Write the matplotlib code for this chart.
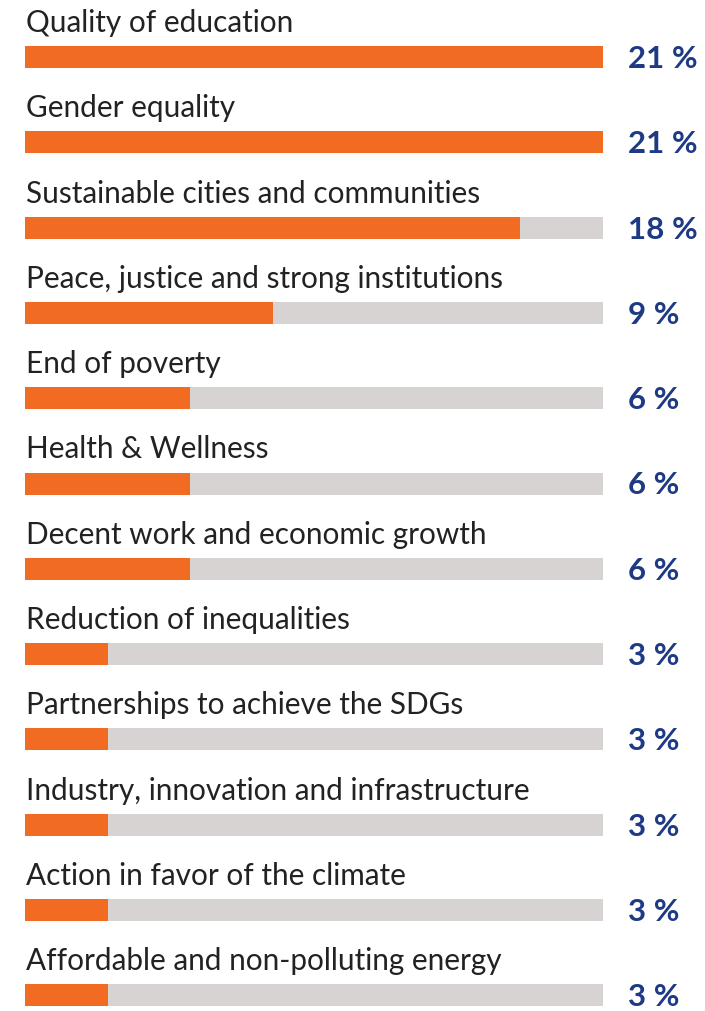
import matplotlib.pyplot as plt

categories = [
    "Quality of education",
    "Gender equality",
    "Sustainable cities and communities",
    "Peace, justice and strong institutions",
    "End of poverty",
    "Health & Wellness",
    "Decent work and economic growth",
    "Reduction of inequalities",
    "Partnerships to achieve the SDGs",
    "Industry, innovation and infrastructure",
    "Action in favor of the climate",
    "Affordable and non-polluting energy",
]
shares = [21, 21, 18, 9, 6, 6, 6, 3, 3, 3, 3, 3]
scale_max = 21

ORANGE = "#F26B23"
TRACK = "#D7D3D3"
NAVY = "#1E3A85"
TEXT = "#222222"

W, H = 705, 1012
fig = plt.figure(figsize=(W / 100, H / 100), dpi=100)
row_h = 85.3
top_c = 58
ax = fig.add_axes([25 / W, 0, 578 / W, 1])
ax.set_xlim(0, scale_max)
ax.set_ylim((H - top_c) / row_h, -top_c / row_h)
ax.axis("off")

bar_h = 22 / row_h
for i, (cat, v) in enumerate(zip(categories, shares)):
    ax.barh(i, scale_max, height=bar_h, color=TRACK, left=0)
    ax.barh(i, v, height=bar_h, color=ORANGE, left=0)
    ax.text(0.03, i - 26 / row_h, cat, fontsize=21.4, family="Lato",
            color=TEXT, va="baseline", ha="left")
    # value label sits on the bar's baseline, to the right of the track
    ax.text(scale_max * (628 - 25) / 578, i + 10 / row_h, f"{v} %", fontsize=22.5,
            family="Lato", fontweight="bold", color=NAVY, va="baseline", ha="left")

fig.savefig("out.png", dpi=100)
